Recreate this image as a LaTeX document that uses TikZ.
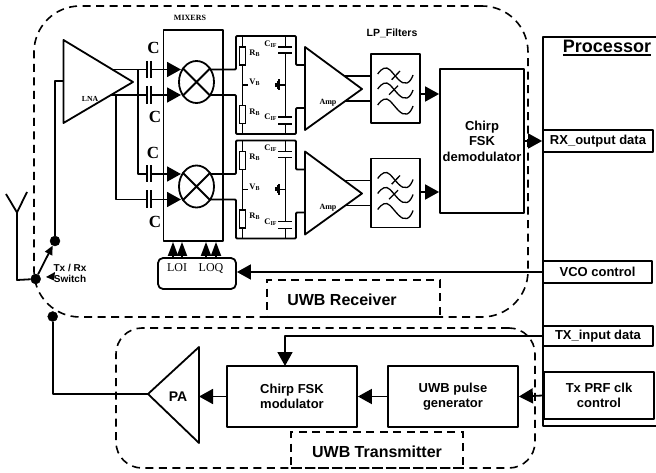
\documentclass[tikz,border=0pt]{standalone}
\usepackage{fontspec}
\setmainfont{Liberation Serif}
\setsansfont{Liberation Sans}
\usetikzlibrary{arrows.meta,shapes.geometric,calc}
\newcommand{\ulproc}[1]{\leavevmode\vtop{\hbox{#1}\kern1.2pt\hrule height 1.6pt}}
\newcommand{\wave}[1]{(377.7,76+#1) .. controls (382,70+#1) and (386,68+#1) .. (390,72+#1) .. controls (396,78+#1) and (401,87+#1) .. (407,85+#1) .. controls (410,84+#1) and (412,80+#1) .. (413,77+#1)}
\newcommand{\subs}[1]{{\fontsize{6}{7}\selectfont\raisebox{-0.8pt}{#1}}}
\tikzset{
  ln/.style={line width=1.8pt,line join=round},
  thn/.style={line width=1.3pt},
  arr/.style={ln,-{Triangle[length=14pt,width=15pt]}},
  arrs/.style={ln,-{Triangle[length=14pt,width=10pt]}},
  boxn/.style={draw,ln,rectangle,inner sep=0pt,align=center},
  dashn/.style={draw,line width=1.6pt,rectangle,inner sep=0pt,dash pattern=on 8pt off 5.5pt},
  sb/.style={font=\sffamily\bfseries\fontsize{13}{15.5}\selectfont,align=center,inner sep=0pt},
  sm/.style={font=\sffamily\bfseries\fontsize{10}{11.5}\selectfont,align=center,inner sep=0pt},
  lb/.style={font=\sffamily\bfseries\fontsize{16}{18}\selectfont,inner sep=0pt},
  ser/.style={font=\rmfamily\bfseries\fontsize{8.5}{10}\selectfont,inner sep=0pt},
  sercap/.style={font=\rmfamily\bfseries\fontsize{17}{19}\selectfont,inner sep=0pt},
  dot/.style={circle,fill=black,draw=black,inner sep=0pt,minimum size=10pt},
  res/.style={draw,thn,fill=white,rectangle,inner sep=0pt,minimum width=5.5pt,minimum height=18pt},
}
\begin{document}
\begin{tikzpicture}[x=1pt,y=-1pt]
\useasboundingbox (0,0) rectangle (656,473);
% dashed regions
\node[dashn,rounded corners=46pt,minimum width=494pt,minimum height=311pt] (rxreg) at (281,161.5) {};
\node[dashn,rounded corners=26pt,minimum width=419pt,minimum height=140pt] (txreg) at (325.5,398) {};
\node[dashn,minimum width=173pt,minimum height=37pt] (rxlab) at (353.5,298.5) {};
\node[dashn,minimum width=172pt,minimum height=36pt] (txlab) at (377,450) {};
\node[lb] (rxt) at (342,300) {UWB Receiver};
\node[lb] (txt) at (377,452) {UWB Transmitter};
% processor
\coordinate (ptr) at (656,37); \coordinate (ptl) at (543,37);
\coordinate (pbl) at (543,426); \coordinate (pbr) at (656,426);
\draw[ln] (ptr) -- (ptl) -- (pbl) -- (pbr);
\node[font=\sffamily\bfseries\fontsize{18}{20}\selectfont,inner sep=0pt,anchor=base] (proct) at (607,53) {\ulproc{Processor}};
\node[boxn,sb,minimum width=110pt,minimum height=22pt] (rxo) at (598,141) {RX\_output data};
\node[boxn,sb,minimum width=109pt,minimum height=22pt] (vco) at (597.5,272) {VCO control};
\node[boxn,sb,minimum width=110pt,minimum height=20pt] (txi) at (598,336) {TX\_input data};
\node[boxn,sb,minimum width=110pt,minimum height=47pt] (prf) at (599,395.5) {Tx PRF clk\\control};
% LNA
\coordinate (la) at (63.5,40); \coordinate (lb) at (63.5,123); \coordinate (lc) at (133,82);
\draw[ln] (la) -- (lb) -- (lc) -- cycle;
\node[font=\rmfamily\bfseries\fontsize{7.7}{9}\selectfont,inner sep=0pt] (lnat) at (90,99) {LNA};
% mixers
\node[boxn,minimum width=59.5pt,minimum height=211pt] (mix) at (193.25,135.5) {};
\node[font=\rmfamily\bfseries\fontsize{8}{9}\selectfont,inner sep=0pt] (mixt) at (190,18) {MIXERS};
\node[sercap] at (153.5,48) {C};
\node[sercap] at (155,117) {C};
\node[sercap] at (153,153) {C};
\node[sercap] at (155,222) {C};
% LO box
\node[boxn,rounded corners=5pt,minimum width=78pt,minimum height=31pt] (lo) at (197,273.5) {};
\node[font=\rmfamily\fontsize{12}{14}\selectfont,inner sep=0pt] (loi) at (177,268) {LOI};
\node[font=\rmfamily\fontsize{12}{14}\selectfont,inner sep=0pt] (loq) at (211,268) {LOQ};
\foreach \x in {173,182,206,216} {
  \coordinate (t\x) at (\x,0);
  \draw[arrs] (t\x |- lo.north) -- (t\x |- mix.south);
}
% two receive chains
\foreach \s/\d/\fa in {a/0/38,b/104.5/36.5} {
\begin{scope}[shift={(0,\d)}]
  % mixer cell
  \node[draw,ln,ellipse,inner sep=0pt,minimum width=35pt,minimum height=42pt] (m\s) at (196.5,82) {};
  \draw[ln] (m\s.45) -- (m\s.225) (m\s.135) -- (m\s.-45);
  \coordinate (inu\s) at (181,69.5); \coordinate (inl\s) at (181,95);
  \coordinate (cu1\s) at (146.7,69.5); \coordinate (cu2\s) at (151.3,69.5);
  \coordinate (cl1\s) at (146.7,95); \coordinate (cl2\s) at (151.3,95);
  \draw[ln] (146.7,61) -- (146.7,78) (151.3,61) -- (151.3,78);
  \draw[ln] (146.7,86) -- (146.7,104) (151.3,86) -- (151.3,104);
  \draw[arr] (cu2\s) -- (inu\s);
  \draw[arr] (cl2\s) -- (inl\s);
  % IF network
  \coordinate (ntl\s) at (236,36); \coordinate (ntr\s) at (296,36);
  \coordinate (nbl\s) at (236,134); \coordinate (nbr\s) at (296,134);
  \coordinate (ou\s) at (211,69.5); \coordinate (ol\s) at (211,95);
  \draw[ln,rounded corners=1pt] (ou\s) -- (236,69.5) -- (ntl\s) -- (ntr\s) -- (296,65) -- (305,65);
  \draw[ln,rounded corners=1pt] (ol\s) -- (236,95) -- (nbl\s) -- (nbr\s) -- (296,108) -- (305,108);
  \draw[thn] (242.5,36) -- (242.5,134);
  \draw[thn] (285.7,36) -- (285.7,47) (285.7,53) -- (285.7,117) (285.7,124) -- (285.7,134);
  \draw[ln] (278,47) -- (292,47) (278,53) -- (292,53) (278,117) -- (292,117) (278,124) -- (292,124);
  \node[res] (r1\s) at (242.5,56) {};
  \node[res] (r2\s) at (242.5,114.5) {};
  \draw[thn] (242.5,85) -- (248,85);
  \node[ser] at (254.5,53) {R\subs{B}};
  \node[ser] at (254.5,82.5) {V\subs{B}};
  \node[ser] at (254.5,112) {R\subs{B}};
  \node[ser] at (270.5,44) {C\subs{IF}};
  \node[ser] at (270.5,117.5) {C\subs{IF}};
  \draw[thn] (285.7,85) -- (279,85);
  \draw[thn] (279,79.5) -- (279,90.5) (277.5,81) -- (277.5,89) (276,83) -- (276,87);
  % amp
  \coordinate (aa\s) at (305,47); \coordinate (ab\s) at (305,130); \coordinate (ac\s) at (362,89);
  \draw[ln] (aa\s) -- (ab\s) -- (ac\s) -- cycle;
  \node[font=\rmfamily\bfseries\fontsize{8}{9}\selectfont,inner sep=0pt] at (328,103) {Amp};
  % filter
  \begin{scope}[shift={(0,-2)}]
    \node[boxn,minimum width=49pt,minimum height=69pt] (f\s) at (395.5,90.5) {};
    \draw[thn] \wave{0} \wave{15} \wave{31};
    \draw[thn] (391.7,81.7) -- (400,73) (389,96.7) -- (398,87.7);
  \end{scope}
  \draw[ln] (345,76) -- (371,76) (345,101) -- (371,101);
\end{scope}
}
% LNA routing
\coordinate (lu) at (112,69.5); \coordinate (ll) at (111,95);
\coordinate (vu) at (138,0); \coordinate (vl) at (116,0);
\draw[ln] (lu) -- (cu1a);
\draw[ln] (ll) -- (cl1a);
\draw[ln] (vu |- cu1a) -- (vu |- cu1b) -- (cu1b);
\draw[ln] (vl |- cl1a) -- (vl |- cl1b) -- (cl1b);
% demodulator
\node[boxn,sb,minimum width=84pt,minimum height=144pt] (dem) at (482,141) {Chirp\\FSK\\demodulator};
\draw[arr] (fa.east |- 0,94) -- (dem.west |- 0,94);
\draw[arr] (fb.east |- 0,192) -- (dem.west |- 0,192);
\draw[arr] (dem.east |- rxo.west) -- (rxo.west);
\node[font=\sffamily\bfseries\fontsize{10.5}{12}\selectfont,inner sep=0pt] (lpf) at (392,33) {LP\_Filters};
% VCO
\draw[arr] (vco.west) -- (lo.east |- vco.west);
% antenna and switch
\node[dot] (sw) at (35.7,279) {};
\node[dot] (up) at (55,241) {};
\node[dot] (lowd) at (52.7,316.5) {};
\coordinate (ybase) at (17,212.5); \coordinate (yl) at (6,194); \coordinate (yr) at (27,192);
\coordinate (ycorner) at (17,280);
\draw[ln] (yl) -- (ybase) -- (yr);
\draw[ln] (ybase) -- (ycorner) -- (sw);
\draw[ln,-{Triangle[length=9pt,width=8pt]}] (sw) -- (up);
\fill (46,277) -- (55,272) -- (54,280.5) -- cycle;
\node[sm] (swt) at (70,273.5) {Tx / Rx\\Switch};
\coordinate (lnain) at (63.5,81); \coordinate (lnac) at (55,81);
\draw[ln] (lnain) -- (lnac) -- (up);
% transmitter
\coordinate (pa1) at (148,394); \coordinate (pa2) at (199,347); \coordinate (pa3) at (199,443);
\draw[ln] (pa1) -- (pa2) -- (pa3) -- cycle;
\node[font=\sffamily\bfseries\fontsize{14}{16}\selectfont,inner sep=0pt] (pat) at (178,397) {PA};
\node[boxn,sb,minimum width=130pt,minimum height=61pt] (mod) at (292,396.5) {Chirp FSK\\modulator};
\node[boxn,sb,minimum width=130pt,minimum height=61pt] (gen) at (453,396.5) {UWB pulse\\generator};
\coordinate (pac) at (52.7,394);
\draw[ln] (lowd) -- (pac) -- (pa1);
\draw[arr] (mod.west) -- (pa2 |- mod.west);
\draw[arr] (gen.west) -- (mod.east);
\draw[arr] (prf.west) -- (gen.east);
\coordinate (mt) at (285,366);
\draw[arr] (txi.west) -- (mt |- txi.west) -- (mt);
\end{tikzpicture}
\end{document}
